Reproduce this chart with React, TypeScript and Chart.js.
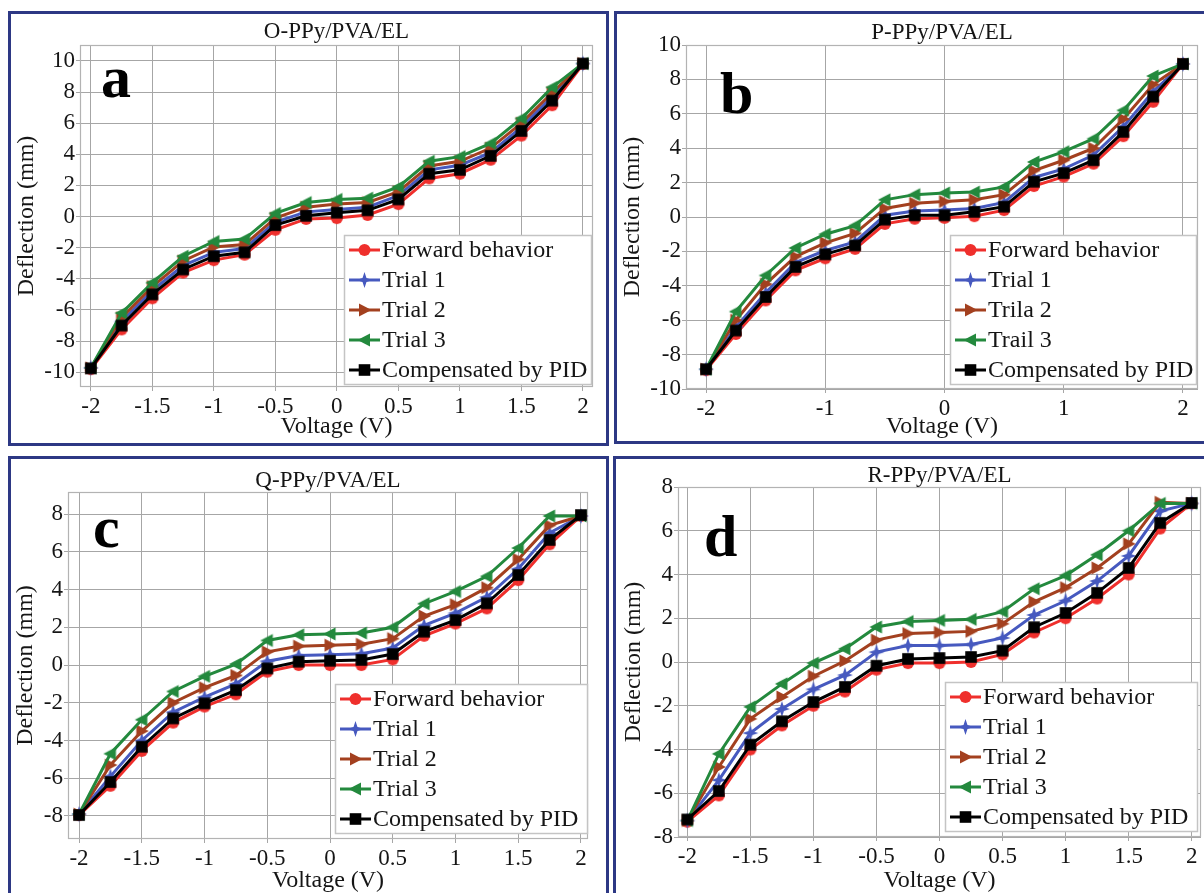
import { useEffect, useRef } from 'react';
import { Chart, registerables } from 'chart.js';

Chart.register(...registerables);

// ---------- DATA ----------
const VOLTAGE = [-2, -1.75, -1.5, -1.25, -1, -0.75, -0.5, -0.25, 0, 0.25, 0.5, 0.75, 1, 1.25, 1.5, 1.75, 2];

const LABELS_STD = ['Forward behavior', 'Trial 1', 'Trial 2', 'Trial 3', 'Compensated by PID'];
const LABELS_B = ['Forward behavior', 'Trial 1', 'Trila 2', 'Trail 3', 'Compensated by PID'];

const X_TICKS_HALF = [-2, -1.5, -1, -0.5, 0, 0.5, 1, 1.5, 2];
const X_TICKS_UNIT = [-2, -1, 0, 1, 2];
const Y_TICKS_10 = [-10, -8, -6, -4, -2, 0, 2, 4, 6, 8, 10];
const Y_TICKS_8 = [-8, -6, -4, -2, 0, 2, 4, 6, 8];

// Panel a: O-PPy/PVA/EL
const A_FORWARD = [-9.8, -7.25, -5.25, -3.6, -2.8, -2.45, -0.85, -0.15, -0.1, 0.1, 0.8, 2.45, 2.75, 3.65, 5.2, 7.15, 9.8];
const A_TRIAL1 = [-9.72, -6.75, -4.75, -3.15, -2.3, -2.05, -0.35, 0.3, 0.45, 0.6, 1.35, 3.0, 3.3, 4.1, 5.75, 7.7, 9.83];
const A_TRIAL2 = [-9.72, -6.5, -4.5, -2.85, -1.95, -1.8, -0.1, 0.6, 0.8, 0.9, 1.6, 3.25, 3.55, 4.4, 6.0, 7.95, 9.83];
const A_TRIAL3 = [-9.72, -6.2, -4.25, -2.55, -1.6, -1.45, 0.2, 0.9, 1.1, 1.18, 1.9, 3.55, 3.85, 4.7, 6.3, 8.3, 9.83];
const A_PID = [-9.75, -7.0, -5.0, -3.4, -2.55, -2.3, -0.55, 0.05, 0.25, 0.4, 1.1, 2.75, 3.0, 3.9, 5.5, 7.45, 9.83];

// Panel b: P-PPy/PVA/EL
const B_FORWARD = [-8.9, -6.8, -4.85, -3.1, -2.4, -1.85, -0.4, -0.1, -0.05, 0.05, 0.4, 1.8, 2.35, 3.1, 4.7, 6.7, 8.9];
const B_TRIAL1 = [-8.85, -6.4, -4.4, -2.65, -1.95, -1.45, 0.1, 0.35, 0.4, 0.5, 0.85, 2.3, 2.8, 3.6, 5.25, 7.3, 8.9];
const B_TRIAL2 = [-8.85, -6.0, -3.9, -2.3, -1.5, -0.95, 0.5, 0.8, 0.9, 1.0, 1.3, 2.7, 3.3, 4.0, 5.7, 7.7, 8.9];
const B_TRIAL3 = [-8.85, -5.5, -3.4, -1.8, -1.0, -0.5, 1.0, 1.3, 1.4, 1.45, 1.75, 3.2, 3.8, 4.55, 6.2, 8.2, 8.9];
const B_PID = [-8.85, -6.6, -4.65, -2.9, -2.17, -1.65, -0.15, 0.1, 0.1, 0.3, 0.6, 2.05, 2.55, 3.3, 4.95, 7.0, 8.9];

// Panel c: Q-PPy/PVA/EL
const C_FORWARD = [-7.95, -6.4, -4.55, -3.05, -2.2, -1.55, -0.35, 0.0, 0.0, 0.0, 0.3, 1.55, 2.2, 3.0, 4.5, 6.4, 7.9];
const C_TRIAL1 = [-7.9, -5.9, -4.0, -2.5, -1.7, -1.0, 0.2, 0.5, 0.55, 0.6, 0.9, 2.1, 2.75, 3.6, 5.1, 7.0, 7.9];
const C_TRIAL2 = [-7.9, -5.3, -3.5, -2.0, -1.2, -0.55, 0.7, 1.0, 1.05, 1.1, 1.4, 2.6, 3.2, 4.1, 5.6, 7.4, 7.9];
const C_TRIAL3 = [-7.9, -4.7, -2.9, -1.4, -0.6, 0.05, 1.3, 1.6, 1.65, 1.7, 2.0, 3.25, 3.9, 4.7, 6.2, 7.9, 7.9];
const C_PID = [-7.95, -6.2, -4.33, -2.83, -2.03, -1.33, -0.18, 0.18, 0.23, 0.27, 0.58, 1.77, 2.38, 3.27, 4.77, 6.63, 7.95];

// Panel d: R-PPy/PVA/EL
const D_FORWARD = [-7.3, -6.1, -4.0, -2.9, -2.0, -1.35, -0.35, -0.05, -0.05, 0.0, 0.35, 1.35, 2.0, 2.9, 4.0, 6.1, 7.25];
const D_TRIAL1 = [-7.25, -5.4, -3.25, -2.15, -1.25, -0.6, 0.45, 0.75, 0.75, 0.8, 1.1, 2.15, 2.8, 3.7, 4.85, 6.9, 7.25];
const D_TRIAL2 = [-7.25, -4.8, -2.6, -1.6, -0.65, 0.05, 1.0, 1.3, 1.35, 1.4, 1.75, 2.75, 3.4, 4.3, 5.4, 7.3, 7.25];
const D_TRIAL3 = [-7.25, -4.2, -2.05, -1.0, -0.05, 0.6, 1.6, 1.85, 1.9, 1.95, 2.3, 3.35, 3.95, 4.9, 6.0, 7.25, 7.25];
const D_PID = [-7.2, -5.9, -3.78, -2.71, -1.83, -1.14, -0.17, 0.14, 0.18, 0.23, 0.52, 1.59, 2.24, 3.16, 4.3, 6.36, 7.27];

// ---------- STYLE ----------
const SERIF = "'Liberation Serif', 'Times New Roman', serif";
const TEXT = '#151515';
const GRID = '#a6a6a6';
const FRAME = '#b3b3b3';
const PANEL_BORDER = '#2d3884';

const SERIES_STYLE = [
  { color: '#ef2f2c', marker: 'circle', order: 4 },
  { color: '#4659bf', marker: 'star', order: 3 },
  { color: '#a3401f', marker: 'right', order: 2 },
  { color: '#23893d', marker: 'left', order: 1 },
  { color: '#000000', marker: 'square', order: 0 },
];

type Panel = {
  box: { left: number; top: number; width: number; height: number };
  area: { left: number; top: number; right: number; bottom: number };
  xMin: number; xMax: number; yMin: number; yMax: number;
  xTicks: number[]; yTicks: number[];
  title: string; letter: string; letterDx: number; letterDy: number; titleGap: number;
  labels: string[]; series: number[][];
  legend: { w: number; rightGap: number; bottomGap: number };
  yTitlePad: number; xTitlePad: number;
};

const PANELS: Panel[] = [
  {
    box: { left: 8, top: 11, width: 601, height: 435 },
    area: { left: 69, top: 31, right: 582, bottom: 373 },
    xMin: -2.088, xMax: 2.082, yMin: -10.95, yMax: 11.02,
    xTicks: X_TICKS_HALF, yTicks: Y_TICKS_10,
    title: 'O-PPy/PVA/EL', letter: 'a', letterDx: 21, letterDy: 52, titleGap: 7,
    labels: LABELS_STD, series: [A_FORWARD, A_TRIAL1, A_TRIAL2, A_TRIAL3, A_PID],
    legend: { w: 248, rightGap: 1, bottomGap: 2 },
    yTitlePad: 1, xTitlePad: 2,
  },
  {
    box: { left: 614, top: 11, width: 600, height: 433 },
    area: { left: 69, top: 31, right: 581, bottom: 375 },
    xMin: -2.168, xMax: 2.126, yMin: -10, yMax: 10,
    xTicks: X_TICKS_UNIT, yTicks: Y_TICKS_10,
    title: 'P-PPy/PVA/EL', letter: 'b', letterDx: 34, letterDy: 68, titleGap: 6,
    labels: LABELS_B, series: [B_FORWARD, B_TRIAL1, B_TRIAL2, B_TRIAL3, B_PID],
    legend: { w: 247, rightGap: 1, bottomGap: 4 },
    yTitlePad: 1, xTitlePad: 0,
  },
  {
    box: { left: 8, top: 456, width: 601, height: 444 },
    area: { left: 57, top: 33, right: 577, bottom: 380 },
    xMin: -2.088, xMax: 2.056, yMin: -9.22, yMax: 9.17,
    xTicks: X_TICKS_HALF, yTicks: Y_TICKS_8,
    title: 'Q-PPy/PVA/EL', letter: 'c', letterDx: 25, letterDy: 55, titleGap: 5,
    labels: LABELS_STD, series: [C_FORWARD, C_TRIAL1, C_TRIAL2, C_TRIAL3, C_PID],
    legend: { w: 253, rightGap: 0, bottomGap: 5 },
    yTitlePad: 0, xTitlePad: 2,
  },
  {
    box: { left: 613, top: 456, width: 600, height: 444 },
    area: { left: 62, top: 28, right: 588, bottom: 378 },
    xMin: -2.074, xMax: 2.074, yMin: -8, yMax: 8,
    xTicks: X_TICKS_HALF, yTicks: Y_TICKS_8,
    title: 'R-PPy/PVA/EL', letter: 'd', letterDx: 26, letterDy: 69, titleGap: 5,
    labels: LABELS_STD, series: [D_FORWARD, D_TRIAL1, D_TRIAL2, D_TRIAL3, D_PID],
    legend: { w: 253, rightGap: 3, bottomGap: 5 },
    yTitlePad: 3, xTitlePad: 2,
  },
];

// ---------- MARKERS ----------
function drawMarker(ctx: CanvasRenderingContext2D, kind: string, color: string, cx: number, cy: number) {
  ctx.save();
  ctx.fillStyle = color;
  ctx.beginPath();
  if (kind === 'circle') {
    ctx.arc(cx, cy, 6, 0, Math.PI * 2);
  } else if (kind === 'square') {
    ctx.rect(cx - 5.8, cy - 5.8, 11.6, 11.6);
  } else if (kind === 'right') {
    ctx.moveTo(cx - 5.5, cy - 6.5);
    ctx.lineTo(cx + 7, cy);
    ctx.lineTo(cx - 5.5, cy + 6.5);
  } else if (kind === 'left') {
    ctx.moveTo(cx + 5.5, cy - 6.5);
    ctx.lineTo(cx - 7, cy);
    ctx.lineTo(cx + 5.5, cy + 6.5);
  } else if (kind === 'star') {
    for (let i = 0; i < 8; i++) {
      const a = -Math.PI / 2 + (i * Math.PI) / 4;
      const r = i % 2 === 0 ? 8 : 2.8;
      const px = cx + r * Math.cos(a);
      const py = cy + r * Math.sin(a);
      if (i === 0) ctx.moveTo(px, py);
      else ctx.lineTo(px, py);
    }
  }
  ctx.closePath();
  ctx.fill();
  ctx.restore();
}

function makeMarker(kind: string, color: string): HTMLCanvasElement {
  const c = document.createElement('canvas');
  c.width = 18;
  c.height = 18;
  const ctx = c.getContext('2d')!;
  drawMarker(ctx, kind, color, 9, 9);
  return c;
}

function panelPlugin(p: Panel) {
  return {
    id: 'panelDecor',
    beforeDatasetsDraw(chart: any) {
      const { ctx, chartArea } = chart;
      ctx.save();
      ctx.strokeStyle = FRAME;
      ctx.lineWidth = 1.2;
      ctx.strokeRect(chartArea.left + 0.5, chartArea.top + 0.5, chartArea.right - chartArea.left - 1, chartArea.bottom - chartArea.top - 1);
      ctx.restore();
    },
    afterDraw(chart: any) {
      const { ctx, chartArea } = chart;
      ctx.save();
      // title
      ctx.fillStyle = TEXT;
      ctx.font = `23px ${SERIF}`;
      ctx.textAlign = 'center';
      ctx.textBaseline = 'alphabetic';
      ctx.fillText(p.title, (chartArea.left + chartArea.right) / 2, chartArea.top - p.titleGap);
      // panel letter
      ctx.font = `bold 60px ${SERIF}`;
      ctx.textAlign = 'left';
      ctx.fillStyle = '#000';
      ctx.fillText(p.letter, chartArea.left + p.letterDx, chartArea.top + p.letterDy);
      // legend
      const rowH = 30;
      const h = rowH * 5;
      const right = chartArea.right - p.legend.rightGap;
      const bottom = chartArea.bottom - p.legend.bottomGap;
      const left = right - p.legend.w;
      const top = bottom - h;
      ctx.fillStyle = '#ffffff';
      ctx.fillRect(left, top, p.legend.w, h);
      ctx.strokeStyle = '#c4c4c4';
      ctx.lineWidth = 1.5;
      ctx.strokeRect(left + 0.5, top + 0.5, p.legend.w - 1, h - 1);
      ctx.font = `24px ${SERIF}`;
      ctx.textBaseline = 'middle';
      p.labels.forEach((label, i) => {
        const st = SERIES_STYLE[i];
        const cy = top + rowH / 2 + i * rowH;
        ctx.strokeStyle = st.color;
        ctx.lineWidth = 3;
        ctx.beginPath();
        ctx.moveTo(left + 5, cy);
        ctx.lineTo(left + 36, cy);
        ctx.stroke();
        drawMarker(ctx, st.marker, st.color, left + 20.5, cy);
        ctx.fillStyle = TEXT;
        ctx.fillText(label, left + 38, cy + 1);
      });
      ctx.restore();
    },
  };
}

function buildConfig(p: Panel, markers: HTMLCanvasElement[], canvasW: number, canvasH: number): any {
  const tickFont = { family: SERIF, size: 23 };
  const titleFont = { family: SERIF, size: 24 };
  return {
    type: 'line',
    data: {
      datasets: p.series.map((vals, i) => ({
        label: p.labels[i],
        data: VOLTAGE.map((v, j) => ({ x: v, y: vals[j] })),
        borderColor: SERIES_STYLE[i].color,
        backgroundColor: SERIES_STYLE[i].color,
        borderWidth: 3,
        pointStyle: markers[i],
        pointRadius: 6,
        order: SERIES_STYLE[i].order,
        tension: 0,
        clip: 8,
      })),
    },
    options: {
      responsive: false,
      animation: false,
      events: [],
      layout: { padding: { left: 0, top: p.area.top, right: canvasW - p.area.right, bottom: 0 } },
      plugins: { legend: { display: false }, title: { display: false }, tooltip: { enabled: false } },
      scales: {
        x: {
          type: 'linear',
          min: p.xMin,
          max: p.xMax,
          afterBuildTicks: (s: any) => { s.ticks = p.xTicks.map((v) => ({ value: v })); },
          afterFit: (s: any) => { s.height = canvasH - p.area.bottom; },
          ticks: { callback: (v: any) => String(v), font: tickFont, color: TEXT, padding: 2, maxRotation: 0, autoSkip: false },
          grid: { color: GRID, lineWidth: 1, tickLength: 4 },
          border: { display: false },
          title: { display: true, text: 'Voltage (V)', font: titleFont, color: TEXT, padding: { top: 0, bottom: p.xTitlePad } },
        },
        y: {
          type: 'linear',
          min: p.yMin,
          max: p.yMax,
          afterBuildTicks: (s: any) => { s.ticks = p.yTicks.map((v) => ({ value: v })); },
          afterFit: (s: any) => { s.width = p.area.left; },
          ticks: { callback: (v: any) => String(v), font: tickFont, color: TEXT, padding: 1, autoSkip: false },
          grid: { color: GRID, lineWidth: 1, tickLength: 4 },
          border: { display: false },
          title: { display: true, text: 'Deflection (mm)', font: titleFont, color: TEXT, padding: { top: p.yTitlePad, bottom: 0 } },
        },
      },
    },
    plugins: [panelPlugin(p)],
  };
}

export default function App() {
  const refs = useRef<(HTMLCanvasElement | null)[]>([]);

  useEffect(() => {
    const markers = SERIES_STYLE.map((s) => makeMarker(s.marker, s.color));
    const charts = PANELS.map((p, i) => {
      const cv = refs.current[i]!;
      return new Chart(cv, buildConfig(p, markers, p.box.width - 6, p.box.height - 6));
    });
    return () => charts.forEach((c) => c.destroy());
  }, []);

  return (
    <div style={{ position: 'absolute', left: 0, top: 0, width: 1204, height: 893, overflow: 'hidden', background: '#ffffff' }}>
      {PANELS.map((p, i) => (
        <div
          key={i}
          style={{
            position: 'absolute',
            left: p.box.left,
            top: p.box.top,
            width: p.box.width,
            height: p.box.height,
            border: `3px solid ${PANEL_BORDER}`,
            boxSizing: 'border-box',
            background: '#ffffff',
          }}
        >
          <canvas
            ref={(el) => { refs.current[i] = el; }}
            width={p.box.width - 6}
            height={p.box.height - 6}
            style={{ display: 'block', width: p.box.width - 6, height: p.box.height - 6 }}
          />
        </div>
      ))}
    </div>
  );
}
